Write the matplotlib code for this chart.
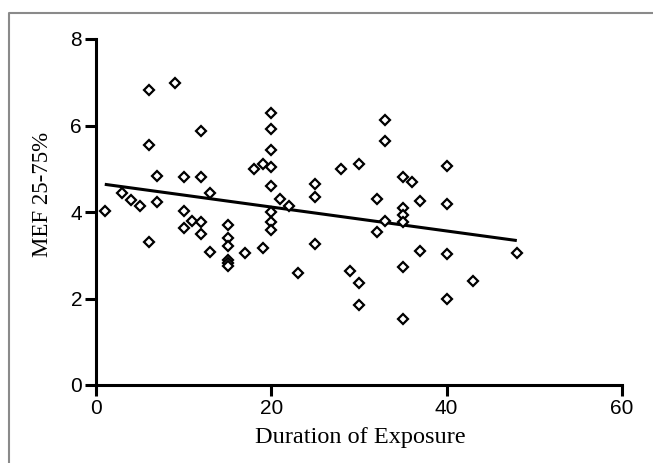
import matplotlib
matplotlib.use("Agg")
import matplotlib.pyplot as plt
from matplotlib.lines import Line2D

# Data
duration = [1, 3, 4, 5, 6, 6, 6, 7, 7, 9, 10, 10, 10, 11, 12, 12, 12, 12, 13, 13,
            15, 15, 15, 15, 15, 15, 17, 18, 19, 19, 20, 20, 20, 20, 20, 20, 20, 20,
            21, 22, 23, 25, 25, 25, 28, 29, 30, 30, 30, 32, 32, 33, 33, 33,
            35, 35, 35, 35, 35, 35, 36, 37, 37, 40, 40, 40, 40, 43, 48]
mef = [4.02, 4.45, 4.28, 4.15, 6.81, 5.56, 3.30, 4.83, 4.22, 6.99, 4.82, 4.02, 3.64, 3.80,
       5.87, 4.82, 3.76, 3.48, 4.45, 3.07,
       3.71, 3.40, 3.21, 2.90, 2.82, 2.75, 3.05, 5.00, 5.11, 3.16,
       6.29, 5.91, 5.43, 5.04, 4.59, 4.00, 3.76, 3.58,
       4.31, 4.14, 2.58, 4.64, 4.35, 3.26, 5.00, 2.64, 5.12, 2.36, 1.85,
       4.31, 3.53, 6.12, 5.65, 3.79,
       4.80, 4.09, 3.93, 3.77, 2.72, 1.52, 4.69, 4.26, 3.09,
       5.07, 4.19, 3.03, 1.99, 2.40, 3.06]
fit_x = [1, 48]
fit_y = [4.64, 3.34]
x_ticks = [0, 20, 40, 60]
y_ticks = [0, 2, 4, 6, 8]

fig = plt.figure(figsize=(6.53, 4.63), dpi=100)
fig.patch.set_facecolor("white")

# light gray frame (left and top edges visible)
fig.add_artist(Line2D([9/653, 9/653, 1.0], [0.0, 1 - 13/463, 1 - 13/463],
                      transform=fig.transFigure, color="#8a8a8a", lw=1.5))

ax = fig.add_axes([96/653, 1 - 385/463, (622 - 96)/653, (385 - 39)/463])
ax.set_facecolor("white")

ax.plot(fit_x, fit_y, color="black", lw=2.2, solid_capstyle="butt", zorder=2)
ax.plot(duration, mef, linestyle="none", marker="D", markersize=5.5,
        markerfacecolor="white", markeredgecolor="black", markeredgewidth=1.6, zorder=3)

ax.set_xlim(0, 60)
ax.set_ylim(0, 8)
ax.set_xticks(x_ticks)
ax.set_yticks(y_ticks)
for s in ["top", "right"]:
    ax.spines[s].set_visible(False)
for s in ["left", "bottom"]:
    ax.spines[s].set_linewidth(2.2)
    ax.spines[s].set_color("black")
ax.spines["left"].set_bounds(0, 8)
ax.spines["bottom"].set_bounds(0, 60)
ax.tick_params(axis="both", direction="out", length=8, width=2.2, color="black",
               labelsize=15, pad=2)
for lab in ax.get_xticklabels() + ax.get_yticklabels():
    lab.set_fontfamily("Liberation Sans")

# axis titles placed at the reference positions (pixels converted to figure coords)
fig.text(360/653, 1 - 443/463, "Duration of Exposure", fontfamily="Liberation Serif",
         fontsize=17.5, ha="center", va="baseline")
fig.text(43/653, 1 - 194/463, "MEF 25-75%", fontfamily="Liberation Serif",
         fontsize=16.5, ha="center", va="center", rotation=90)

fig.savefig("out.png", dpi=100)
